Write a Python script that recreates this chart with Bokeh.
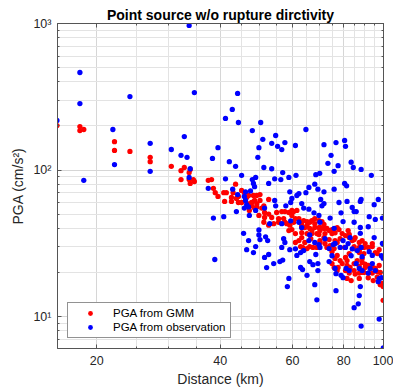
from bokeh.plotting import figure
from bokeh.models import (FixedTicker, LogAxis, Legend, LegendItem, Range1d,
                          CustomJSTickFormatter)
from bokeh.embed import file_html
from bokeh.resources import INLINE

# ---------------- data ----------------
title_text = "Point source w/o rupture dirctivity"
x_label = "Distance (km)"
y_label = "PGA (cm/s²)"
x_ticks = [20, 40, 60, 80, 100]
x_minor = [25, 30, 35, 45, 50, 55, 65, 70, 75, 85, 90, 95]
y_ticks = [10, 100, 1000]
y_minor = [7, 8, 9, 20, 30, 40, 50, 60, 70, 80, 90, 200, 300, 400, 500, 600, 700, 800, 900]
y_tick_labels = {10: "10¹", 100: "10²", 1000: "10³"}

gmm_dist = [16.0, 18.2, 18.2, 18.6, 22.1, 22.1, 24.1, 27.0, 27.0, 30.4, 32.1, 32.7, 33.6, 33.6, 32.1, 33.8, 34.6, 33.8, 34.4,
            37.4, 38.1, 38.5, 38.9, 39.5, 40.8, 41.4, 43.0, 43.6, 45.1, 45.8, 48.2, 49.1, 50.0, 42.6, 43.8, 52.5, 41.0, 42.6, 44.3, 45.1,
            46.4, 46.9, 48.5, 49.1, 47.7, 46.6, 44.3, 48.5,
            47.7, 47.1, 49.1, 50.5, 51.3, 52.5, 53.4, 49.7, 51.1, 52.5, 54.0, 55.5, 56.5, 58.8, 59.8, 58.1, 59.1, 60.4, 62.2, 63.2, 63.2,
            65.1, 66.1, 68.0, 66.9, 65.1, 63.2, 62.2, 61.0, 64.3, 66.5, 68.8, 70.0, 71.6, 72.0, 73.7, 74.9, 76.2, 77.9, 79.3, 70.0, 72.0,
            74.1, 76.2, 78.4, 80.8, 82.5, 83.9, 85.3, 87.3, 88.7, 90.2, 91.8, 87.3, 84.8, 82.5, 80.8, 78.4, 76.2, 74.9, 77.5, 80.8, 82.5,
            84.8, 87.3, 89.6, 90.2, 88.7, 91.8, 94.4, 96.6, 96.6, 98.2, 99.4, 99.8, 99.8, 94.4, 91.8, 93.9, 83.4, 97.6, 96.6, 93.9, 95.5,
            50.0, 51.1, 51.3, 54.9, 57.5, 60.4, 61.5, 59.8, 61.0, 57.1, 57.5, 55.5, 63.9, 65.1, 66.9, 68.0, 63.2, 64.3, 66.1, 68.0, 69.6,
            66.9, 69.6, 63.2, 61.0, 59.8, 58.8, 62.8, 66.1, 68.8,
            69.6, 70.8, 71.6, 70.0, 72.8, 74.9, 77.1, 82.0, 82.5, 71.6, 73.7, 70.0, 77.1, 84.8, 84.8, 87.3, 93.9, 89.6, 72.8, 75.8, 80.4,
            63.5, 65.1, 67.3, 74.9, 77.1, 81.5, 79.3, 81.5, 82.9, 84.8, 86.3, 88.7, 87.3, 90.2, 88.2, 85.3, 81.5, 87.3, 91.8, 97.6, 95.5,
            98.2, 75.8, 77.1, 89.6, 87.3]
gmm_pga = [201, 198, 186, 189, 136, 156, 134, 114, 122, 106, 99, 104, 96, 86, 86, 81, 83.5, 101, 86,
           85, 86, 75, 70, 66, 70, 70, 70, 80, 72.5, 70, 67, 67, 68, 65, 64, 63, 61, 61, 60, 60,
           65, 67, 62, 59, 60, 59, 66, 55,
           57, 53, 56, 55, 51.3, 50, 47.4, 49, 44, 42, 43, 46.6, 52, 51.3, 53, 43, 42, 44, 46.6, 44, 40.5,
           41.8, 44, 43, 38.6, 36.8, 34.6, 33, 32, 32, 34, 36.8, 38.6, 39.9, 36.8, 38.6, 36.8, 37.3, 39.2, 36.8, 33, 31.5,
           30.5, 33, 34, 35.7, 34.6, 33, 34.6, 32, 33, 31.5, 29.6, 27.3, 29.1, 26.9, 25.3, 24.1, 24.9, 23, 21.6, 20.6, 19.8,
           20.6, 19.8, 20, 21.6, 23.4, 22.3, 21.6, 20.2, 18.6, 20, 16.8, 16, 12.9, 17.6, 18.4, 19.8, 17.6, 28.6, 26.9, 31.5, 27.3,
           62, 57, 47.4, 51.3, 52, 52, 53, 49, 46.6, 46.6, 44, 44, 45.2, 44.5, 45.2, 46.6, 41.8, 40.5, 39.9, 40.5, 40.5,
           36.8, 36.3, 37.3, 36.8, 39.2, 38.6, 30, 30, 29.6,
           45.2, 44.5, 42.5, 40.5, 39.9, 39.2, 40.5, 38.6, 36.3, 34.6, 33.5, 32, 32, 33.5, 30, 29.6, 30, 29.6, 29.6, 29.1, 29.6,
           29.6, 29.1, 29.6, 27.7, 26.1, 24.1, 23, 22.3, 21.6, 23, 24.1, 24.9, 22, 22.8, 20, 19.5, 18.2, 18.2, 19.8, 22.3, 21.3,
           16.5, 21.6, 20.6, 26.9, 28.2]

obs_dist = [16.0, 18.2, 18.2, 18.6, 24.1, 21.9, 22.1, 27.0, 27.0, 30.4, 32.1, 33.2, 32.7, 33.6, 34.6, 33.8, 33.6,
            44.1, 42.8, 41.2, 44.3, 50.2, 47.9, 50.8, 54.6, 53.4, 57.5, 55.2, 56.5, 64.7, 61.0, 71.6, 76.6, 80.4, 80.8, 74.5, 73.2,
            77.5, 75.8, 83.4, 84.4, 88.2, 93.4,
            39.5, 38.3, 43.6, 45.1, 49.7, 49.4, 51.1, 53.4, 54.3, 56.2, 58.8, 61.2, 41.2, 47.9, 48.8, 48.2, 48.5, 52.5, 46.1, 42.9,
            44.1, 37.4, 59.1, 61.5, 64.7, 65.8, 68.0, 69.2, 68.4, 69.9, 71.6, 75.8, 80.4, 81.3, 59.8, 70.3, 88.2, 97.1, 42.1,
            45.8, 47.4, 46.1, 46.4, 45.8, 46.9, 43.8, 47.1, 38.5, 40.8, 45.6, 46.9, 48.8, 56.8,
            57.8, 54.3, 54.6, 51.3, 48.8, 63.2, 63.9, 65.8, 67.7, 69.6, 62.2, 63.2, 59.4, 56.5, 52.8, 49.7, 50.0, 51.6, 52.2, 57.1,
            57.5, 66.1, 65.8, 68.0, 69.6, 61.0,
            71.6, 77.9, 81.5, 83.9, 84.8, 85.8, 78.8, 87.8, 94.9, 92.3, 95.5, 99.4, 74.1, 70.0, 79.7, 84.8, 87.8, 91.8, 87.8, 94.9,
            99.4, 82.9, 82.0, 83.9, 78.4, 70.0,
            46.4, 48.2, 49.7, 51.3, 51.9, 52.5, 54.0, 55.9, 56.5, 59.1, 59.4, 62.2, 62.8, 63.5, 65.1, 68.4, 69.2, 70.8, 74.9, 73.7,
            76.2, 76.6, 75.8, 79.7, 83.4, 86.3, 85.8, 88.7, 91.8, 98.8, 99.8, 97.6, 98.8, 97.1, 93.9, 92.8, 88.7, 87.3, 78.8, 69.2,
            66.1, 67.3, 62.8, 63.9, 61.5, 72.0, 76.2, 75.4, 73.7, 80.8,
            58.8, 58.3, 68.0, 68.8, 76.6, 84.8, 86.8, 88.2, 97.6, 99.9, 38.8, 87.8, 87.3, 79.7, 81.1, 82.5, 88.2, 95.5, 93.9, 92.3,
            56.8]
obs_pga = [218, 463, 284, 85, 317, 189, 109, 152, 98, 138, 126, 122, 169, 970, 338, 102, 89,
           333, 259, 225, 211, 211, 186, 162, 172, 152, 154, 145, 138, 189, 147, 149, 154, 159, 145, 126, 111,
           107, 98, 113, 104, 101, 92,
           142, 120, 106, 92, 142, 122, 104, 102, 87, 86, 89, 92, 87, 86, 89, 81, 77, 81, 71, 74,
           68, 75, 71, 67, 70, 76, 80, 74, 93, 95, 71, 74, 81, 78, 64, 63, 63, 63, 114,
           66, 72, 62, 58, 55, 56, 52, 49, 47, 48, 37, 33, 30, 96,
           57, 62, 57, 55, 53, 59, 55, 54, 51, 49, 44, 40.5, 45, 43, 43, 36, 33.5, 35, 33, 34,
           32, 36, 33, 32, 31, 29,
           59, 60, 61, 55.5, 52, 52, 51, 61, 58, 48, 46, 47, 47, 44, 44.5, 44, 40.5, 41, 37, 34.6,
           31.5, 34.6, 31.5, 29, 29.6, 29.6,
           28.6, 27.3, 39, 25.3, 21.6, 26.5, 23, 23.7, 29.6, 28.6, 60, 69, 21.6, 20.9, 19.1, 26.5, 23, 57, 26, 23.7,
           21.3, 19.6, 40, 33, 26, 28.2, 23, 20.6, 19.8, 26, 25, 18.1, 18.4, 17.3, 23, 21.3, 25.6, 21.3, 19.1, 20.6,
           23.7, 22.6, 27.3, 28.2, 26.1, 34, 31.5, 31, 29.1, 29.6,
           18.2, 16, 16.5, 13, 15, 11.5, 12.2, 8.6, 9.6, 6.1, 24.5, 16, 13.9, 18.4, 21.3, 20.6, 29.6, 20.6, 26.1, 27.7,
           24.3]

# ---------------- figure ----------------
FONT = "Liberation Sans"
TXT = "#262626"
AX = "#555555"

p = figure(width=393, height=389, x_axis_type="log", y_axis_type="log",
           x_range=Range1d(16.05, 100), y_range=Range1d(6.05, 1000),
           output_backend="svg", toolbar_location=None,
           min_border_left=57, min_border_right=10, min_border_top=23, min_border_bottom=41,
           title=title_text)

p.title.align = "center"
p.title.text_font = FONT
p.title.text_font_size = "14px"
p.title.text_font_style = "bold"
p.title.text_color = "#000000"
p.title.standoff = 2
p.title.offset = 0

xt = FixedTicker(ticks=x_ticks, minor_ticks=x_minor)
yt = FixedTicker(ticks=y_ticks, minor_ticks=y_minor)

xfmt = CustomJSTickFormatter(code="return String(Math.round(tick));")
yfmt = CustomJSTickFormatter(args=dict(m={str(k): v for k, v in y_tick_labels.items()}),
                             code="const k = String(Math.round(tick)); return (k in m) ? m[k] : '';")
blank = CustomJSTickFormatter(code="return '';")

for ax, tk, fm in ((p.xaxis[0], xt, xfmt), (p.yaxis[0], yt, yfmt)):
    ax.ticker = tk
    ax.formatter = fm
    ax.major_label_text_font = FONT
    ax.major_label_text_font_size = "12.5px"
    ax.major_label_text_color = TXT
    ax.axis_label_text_font = FONT
    ax.axis_label_text_font_size = "14px"
    ax.axis_label_text_font_style = "normal"
    ax.axis_label_text_color = TXT
    ax.axis_line_color = AX
    ax.major_tick_line_color = AX
    ax.minor_tick_line_color = AX
    ax.major_tick_in = 4
    ax.major_tick_out = 0
    ax.minor_tick_in = 2
    ax.minor_tick_out = 0

p.xaxis.axis_label = x_label
p.yaxis.axis_label = y_label
p.xaxis.major_label_standoff = 7
p.yaxis.major_label_standoff = 6
p.xaxis.axis_label_standoff = 3
p.yaxis.axis_label_standoff = 4

top = LogAxis(ticker=xt, formatter=blank, axis_line_color=AX, major_tick_line_color=AX,
              minor_tick_line_color=AX, major_tick_in=4, major_tick_out=0,
              minor_tick_in=2, minor_tick_out=0, major_label_standoff=0)
right = LogAxis(ticker=yt, formatter=blank, axis_line_color=AX, major_tick_line_color=AX,
                minor_tick_line_color=AX, major_tick_in=4, major_tick_out=0,
                minor_tick_in=2, minor_tick_out=0, major_label_standoff=0)
p.add_layout(top, "above")
p.add_layout(right, "right")

p.xgrid.ticker = xt
p.ygrid.ticker = yt
p.xgrid.grid_line_color = "#d6d6d6"
p.ygrid.grid_line_color = "#d6d6d6"
p.xgrid.minor_grid_line_color = "#e3e3e3"
p.ygrid.minor_grid_line_color = "#e3e3e3"
p.outline_line_color = AX
p.background_fill_color = "white"
p.border_fill_color = "white"

r_gmm = p.scatter(gmm_dist, gmm_pga, size=5.3, fill_color="#ff0000", line_color=None)
r_obs = p.scatter(obs_dist, obs_pga, size=5.3, fill_color="#0000ff", line_color=None)

legend = Legend(items=[LegendItem(label="PGA from GMM", renderers=[r_gmm]),
                       LegendItem(label="PGA from observation", renderers=[r_obs])],
                location=(10, 10), margin=0, padding=4, spacing=2,
                glyph_width=36, glyph_height=12, label_height=12, label_standoff=5,
                label_text_font=FONT, label_text_font_size="11.5px", label_text_color="#000000",
                border_line_color="#262626", border_line_width=1,
                background_fill_color="white", background_fill_alpha=1)
p.add_layout(legend, "center")

open("out.html", "w").write(file_html(p, INLINE))
